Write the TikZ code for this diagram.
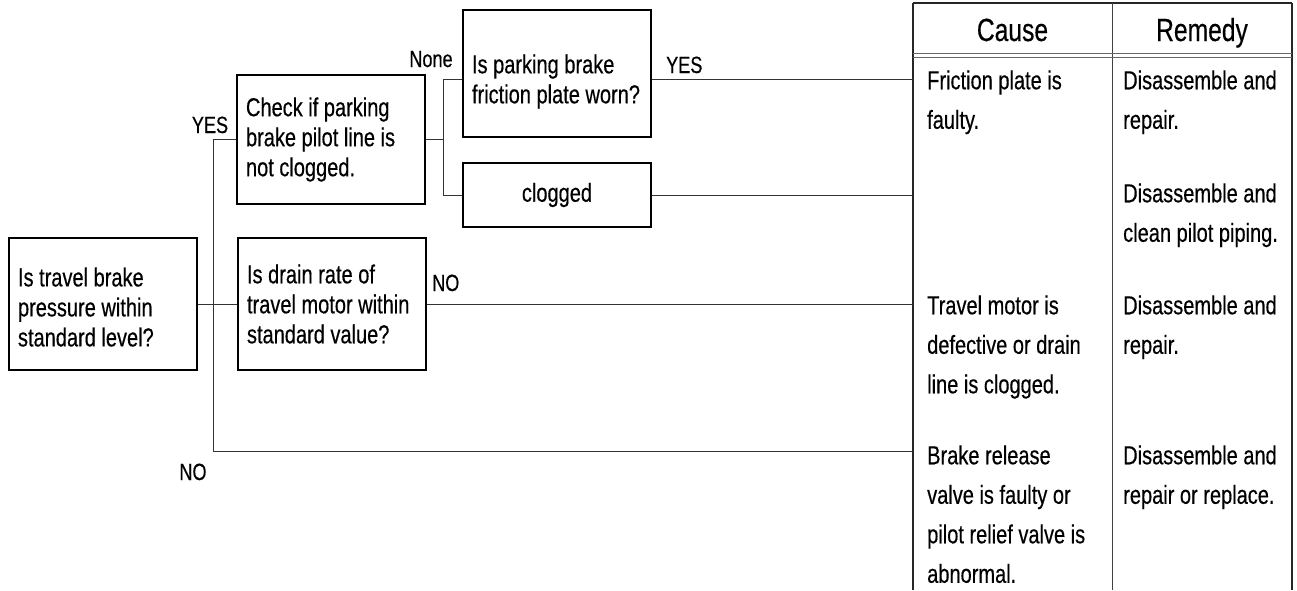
\documentclass[tikz,border=0pt]{standalone}
\usepackage{fontspec}
\setmainfont{Liberation Sans}[FakeStretch=0.77,FakeBold=0.4]
\newcommand{\myboxfont}{\fontsize{26}{30}\selectfont}
\newcommand{\mycellfont}{\fontsize{26}{39.5}\selectfont}
\newcommand{\myheadfont}{\fontsize{32}{38}\selectfont}
\newcommand{\mylblfont}{\fontsize{23.5}{27}\selectfont}
\tikzset{
  qbox/.style={draw=black, line width=1.3pt, rectangle, text width=170pt,
    inner xsep=9pt, inner ysep=0pt, align=flush left, font=\myboxfont},
  conn/.style={line width=1pt, draw=black!80},
  tabline/.style={line width=1.3pt, draw=black!85},
  lbl/.style={font=\mylblfont, inner sep=0pt, anchor=base},
  cell/.style={font=\mycellfont, inner sep=0pt, anchor=north west, align=left},
  head/.style={font=\myheadfont, inner sep=0pt, anchor=base}
}
\begin{document}
\begin{tikzpicture}[x=1pt,y=-1pt]
\useasboundingbox (0,0) rectangle (1297,590);
% boxes
\node[qbox, minimum height=132pt] (b1) at (103,304)
  {\rule{0pt}{25pt}Is travel brake\\pressure within\\standard level?};
\node[qbox, minimum height=132pt] (b2) at (332,304)
  {Is drain rate of\\travel motor within\\standard value?};
\node[qbox, minimum height=129pt] (b3) at (331,139.5)
  {Check if parking\\brake pilot line is\\not clogged.};
\node[qbox, minimum height=127pt] (b4) at (557,73.5)
  {\rule{0pt}{35pt}Is parking brake\\friction plate worn?};
\node[qbox, minimum height=64pt, align=flush center] (b5) at (557,195) {clogged};
% table
\coordinate (tabL) at (913,3);
\coordinate (tabM) at (1112,3);
\coordinate (tabR) at (1292,3);
\draw[tabline] (tabL) -- (tabR);
\draw[tabline] (tabL) -- (913,590);
\draw[line width=1pt, draw=black!75] (tabM) -- (1112,590);
\draw[line width=2pt, draw=black!85] (tabR) -- (1292,590);
\draw[line width=1pt, draw=black!60] (913,53) -- (1292,53);
\draw[line width=1pt, draw=black!60] (913,57.5) -- (1292,57.5);
\node[head] (hc) at (1012.5,41) {Cause};
\node[head] (hr) at (1202,41) {Remedy};
\node[cell] (c1) at (927,61.4) {\strut Friction plate is\\faulty.};
\node[cell] (r1) at (1123,61.4) {\strut Disassemble and\\repair.};
\node[cell] (r2) at (1123,174.4) {\strut Disassemble and\\clean pilot piping.};
\node[cell] (c3) at (927,286.4) {\strut Travel motor is\\defective or drain\\line is clogged.};
\node[cell] (r3) at (1123,286.4) {\strut Disassemble and\\repair.};
\node[cell] (c4) at (927,436.4) {\strut Brake release\\valve is faulty or\\pilot relief valve is\\abnormal.};
\node[cell] (r4) at (1123,436.4) {\strut Disassemble and\\repair or replace.};
% connectors
\coordinate (jx) at (213,451);
\coordinate (kx) at (443,79);
\draw[conn] (b1.east) -- (b2.west);
\draw[conn] (b3.west) -| (jx) -- (jx -| tabL);
\draw[conn] (b2.east) -- (b2.east -| tabL);
\draw[conn] (b3.east) -| (kx) -- (kx -| b4.west);
\draw[conn] (kx) |- (b5.west);
\draw[conn] (kx -| b4.east) -- (kx -| tabL);
\draw[conn] (b5.east) -- (b5.east -| tabL);
% labels
\node[lbl] (lyes1) at (210,133) {YES};
\node[lbl] (lnone) at (431,67) {None};
\node[lbl, anchor=base west] (lyes2) at (666,73) {YES};
\node[lbl, anchor=base west] (lno1) at (432,291) {NO};
\node[lbl] (lno2) at (193,480) {NO};
\end{tikzpicture}
\end{document}
